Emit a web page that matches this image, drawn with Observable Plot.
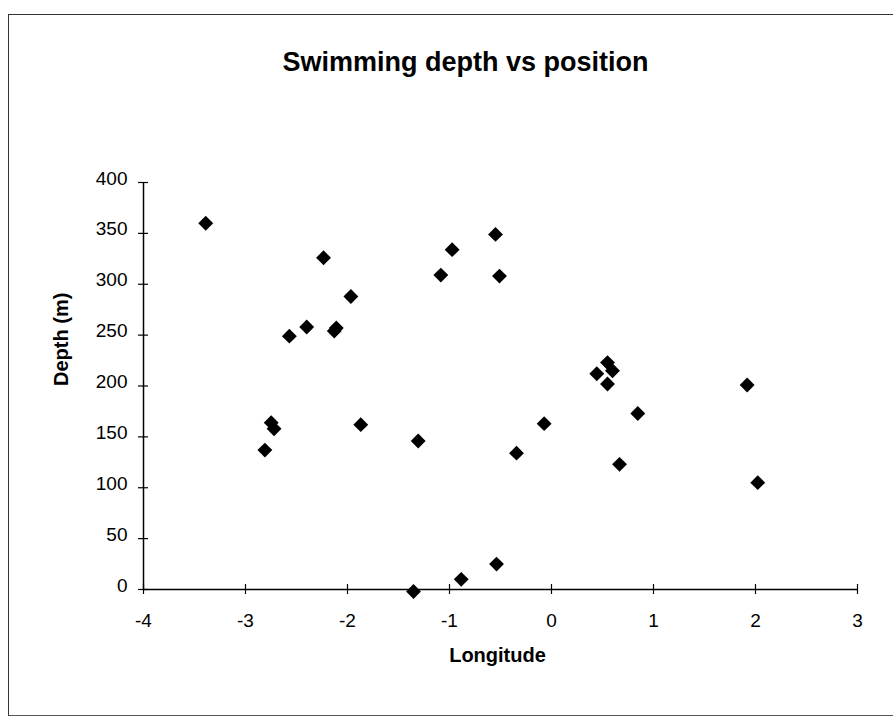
<!DOCTYPE html>
<html>
<head>
<meta charset="utf-8">
<script src="https://cdn.jsdelivr.net/npm/d3@7"></script>
<script src="https://cdn.jsdelivr.net/npm/@observablehq/plot@0.6"></script>
<style>
  html, body { margin: 0; padding: 0; background: #fff; }
  #wrap { position: relative; width: 893px; height: 720px; overflow: hidden; }
  #border { position: absolute; left: 8px; top: 14px; width: 920px; height: 700px;
            border-left: 1.5px solid #333; border-top: 1.5px solid #333; border-bottom: 1.5px solid #555; }
</style>
</head>
<body>
<div id="wrap"><div id="border"></div></div>
<script>
const title = "Swimming depth vs position";
const xLabel = "Longitude";
const yLabel = "Depth (m)";

const longitude = [-3.39, -2.235, -1.967, -2.40, -2.57, -2.13, -2.11, -0.549, -0.974, -1.085, -0.51,
  0.549, 0.598, 0.444, 0.549, -2.748, -2.72, -2.81, -1.87, -1.307, -1.353, -0.343, -0.072,
  0.846, 0.667, 1.918, 2.022, -0.539, -0.885];
const depth = [360, 326, 288, 258, 249, 254, 257, 349, 334, 309, 308,
  223, 215, 212, 202, 164, 158, 137, 162, 146, -2, 134, 163,
  173, 123, 201, 105, 25, 10];

const xTicks = [-4, -3, -2, -1, 0, 1, 2, 3];
const yTicks = [0, 50, 100, 150, 200, 250, 300, 350, 400];
const xDomain = [-4, 3];
const yDomain = [0, 400];

const data = longitude.map((x, i) => ({x, y: depth[i]}));
const font = "'Liberation Sans', Arial, sans-serif";

const chart = Plot.plot({
  width: 893,
  height: 720,
  marginLeft: 143,
  marginRight: 36,
  marginTop: 182,
  marginBottom: 131,
  style: {fontFamily: font, color: "#000", background: "transparent", overflow: "visible"},
  x: {domain: xDomain},
  y: {domain: yDomain},
  marks: [
    // axis lines
    Plot.ruleY([yDomain[0]], {x1: xDomain[0], x2: xDomain[1], stroke: "#000", strokeWidth: 1.5}),
    Plot.ruleX([xDomain[0]], {y1: yDomain[0], y2: yDomain[1], stroke: "#000", strokeWidth: 1.5}),
    // crossing tick marks
    Plot.axisX(xTicks, {tickSize: 10, dy: -5, fill: "none", label: null, strokeWidth: 1.2}),
    Plot.axisY(yTicks, {tickSize: 10, dx: 5, fill: "none", label: null, strokeWidth: 1.2}),
    // tick labels
    Plot.axisX(xTicks, {tickSize: 0, tickPadding: 24, fontSize: 19, label: null, tickFormat: d => String(d)}),
    Plot.axisY(yTicks, {tickSize: 0, tickPadding: 16, dy: -4, fontSize: 19, label: null, tickFormat: d => String(d)}),
    // points
    Plot.dot(data, {x: "x", y: "y", symbol: "diamond2", r: 6.7, fill: "#000", stroke: "none"}),
    // title and axis titles
    Plot.text([title], {frameAnchor: "top", dx: -35, dy: -112, lineAnchor: "bottom", fontSize: 27, fontWeight: "bold"}),
    Plot.text([xLabel], {frameAnchor: "bottom", dx: -3, dy: 66, lineAnchor: "middle", fontSize: 20, fontWeight: "bold"}),
    Plot.text([yLabel], {frameAnchor: "left", dx: -82, dy: 0, rotate: -90, lineAnchor: "middle", fontSize: 20, fontWeight: "bold"})
  ]
});
chart.style.position = "absolute";
chart.style.left = "0px";
chart.style.top = "0px";
document.getElementById("wrap").appendChild(chart);
</script>
</body>
</html>
